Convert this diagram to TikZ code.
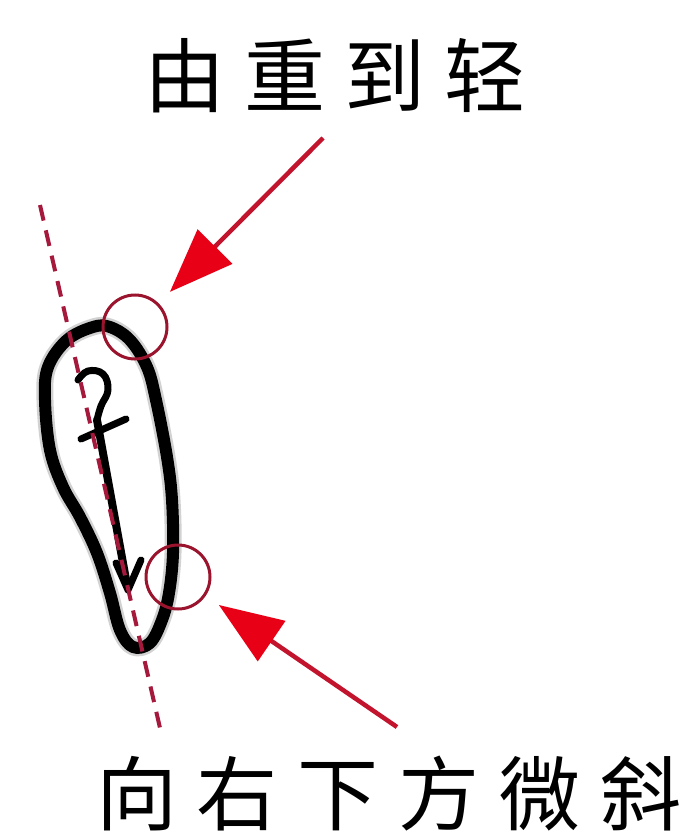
\documentclass[tikz,border=0pt]{standalone}
\usepackage{fontspec}
\newfontfamily\cjk{Noto Sans CJK SC}
\usetikzlibrary{arrows.meta}
\definecolor{dashred}{RGB}{165,25,60}
\definecolor{ringred}{RGB}{155,20,45}
\definecolor{shaftred}{RGB}{195,20,45}
\definecolor{headred}{RGB}{232,0,22}
\tikzset{
  label/.style={inner sep=0pt, font=\cjk\fontsize{81}{88}\selectfont},
  ring/.style={circle, draw=ringred, line width=3pt, minimum size=64pt, inner sep=0pt},
  pointer/.style={draw=shaftred, line width=4.5pt, shorten >=16pt,
    -{Triangle[length=64pt, width=48pt, fill=headred, color=headred]}},
  guide/.style={draw=dashred, line width=4pt, dash pattern=on 16pt off 10pt},
  brush/.style={draw=black, line width=12pt, line join=round, line cap=round},
  pen/.style={draw=black, line width=7pt, line join=round, line cap=round}
}
\begin{document}
\begin{tikzpicture}[x=1pt, y=-1pt]
\useasboundingbox (0,0) rectangle (689,837);
% labels
\node[label] (top) at (335,76) {由\hspace{19pt}重\hspace{19pt}到\hspace{19pt}轻};
\node[label] (bot) at (389,794) {向\hspace{20pt}右\hspace{20pt}下\hspace{20pt}方\hspace{20pt}微\hspace{20pt}斜};
% brush stroke outline
\draw[draw=black!35, line width=17pt, opacity=0.5, line join=round]
  plot[smooth cycle, tension=0.6] coordinates {
  (93,327) (67,340) (48,367) (45,400) (50,450) (63,487) (80,517) (97,553)
  (110,593) (120,630) (133,647) (150,643) (162,620) (169,593) (173,553)
  (172,500) (167,457) (156,400) (147,367) (130,340) (110,327)};
\draw[brush]
  plot[smooth cycle, tension=0.6] coordinates {
  (93,327) (67,340) (48,367) (45,400) (50,450) (63,487) (80,517) (97,553)
  (110,593) (120,630) (133,647) (150,643) (162,620) (169,593) (173,553)
  (172,500) (167,457) (156,400) (147,367) (130,340) (110,327)};
% inner mark
\draw[pen] plot[smooth, tension=0.7] coordinates {(78,380) (88,371) (103,374) (108,390) (101,406) (97,420)};
\draw[pen] (81,439) -- (126,419);
\draw[pen, line width=8pt] (97,420) -- (127,585);
\draw[pen] (116,563) -- (128,590) -- (141,560);
% guide line
\coordinate (g1) at (40,205);
\coordinate (g2) at (160,728);
\draw[guide] (g1) -- (g2);
% rings
\node[ring] (c1) at (135,327) {};
\node[ring] (c2) at (178,577) {};
% pointers
\coordinate (p1) at (323,138);
\coordinate (p2) at (397,727);
\draw[pointer] (p1) -- (c1);
\draw[pointer] (p2) -- (c2);
\end{tikzpicture}
\end{document}
